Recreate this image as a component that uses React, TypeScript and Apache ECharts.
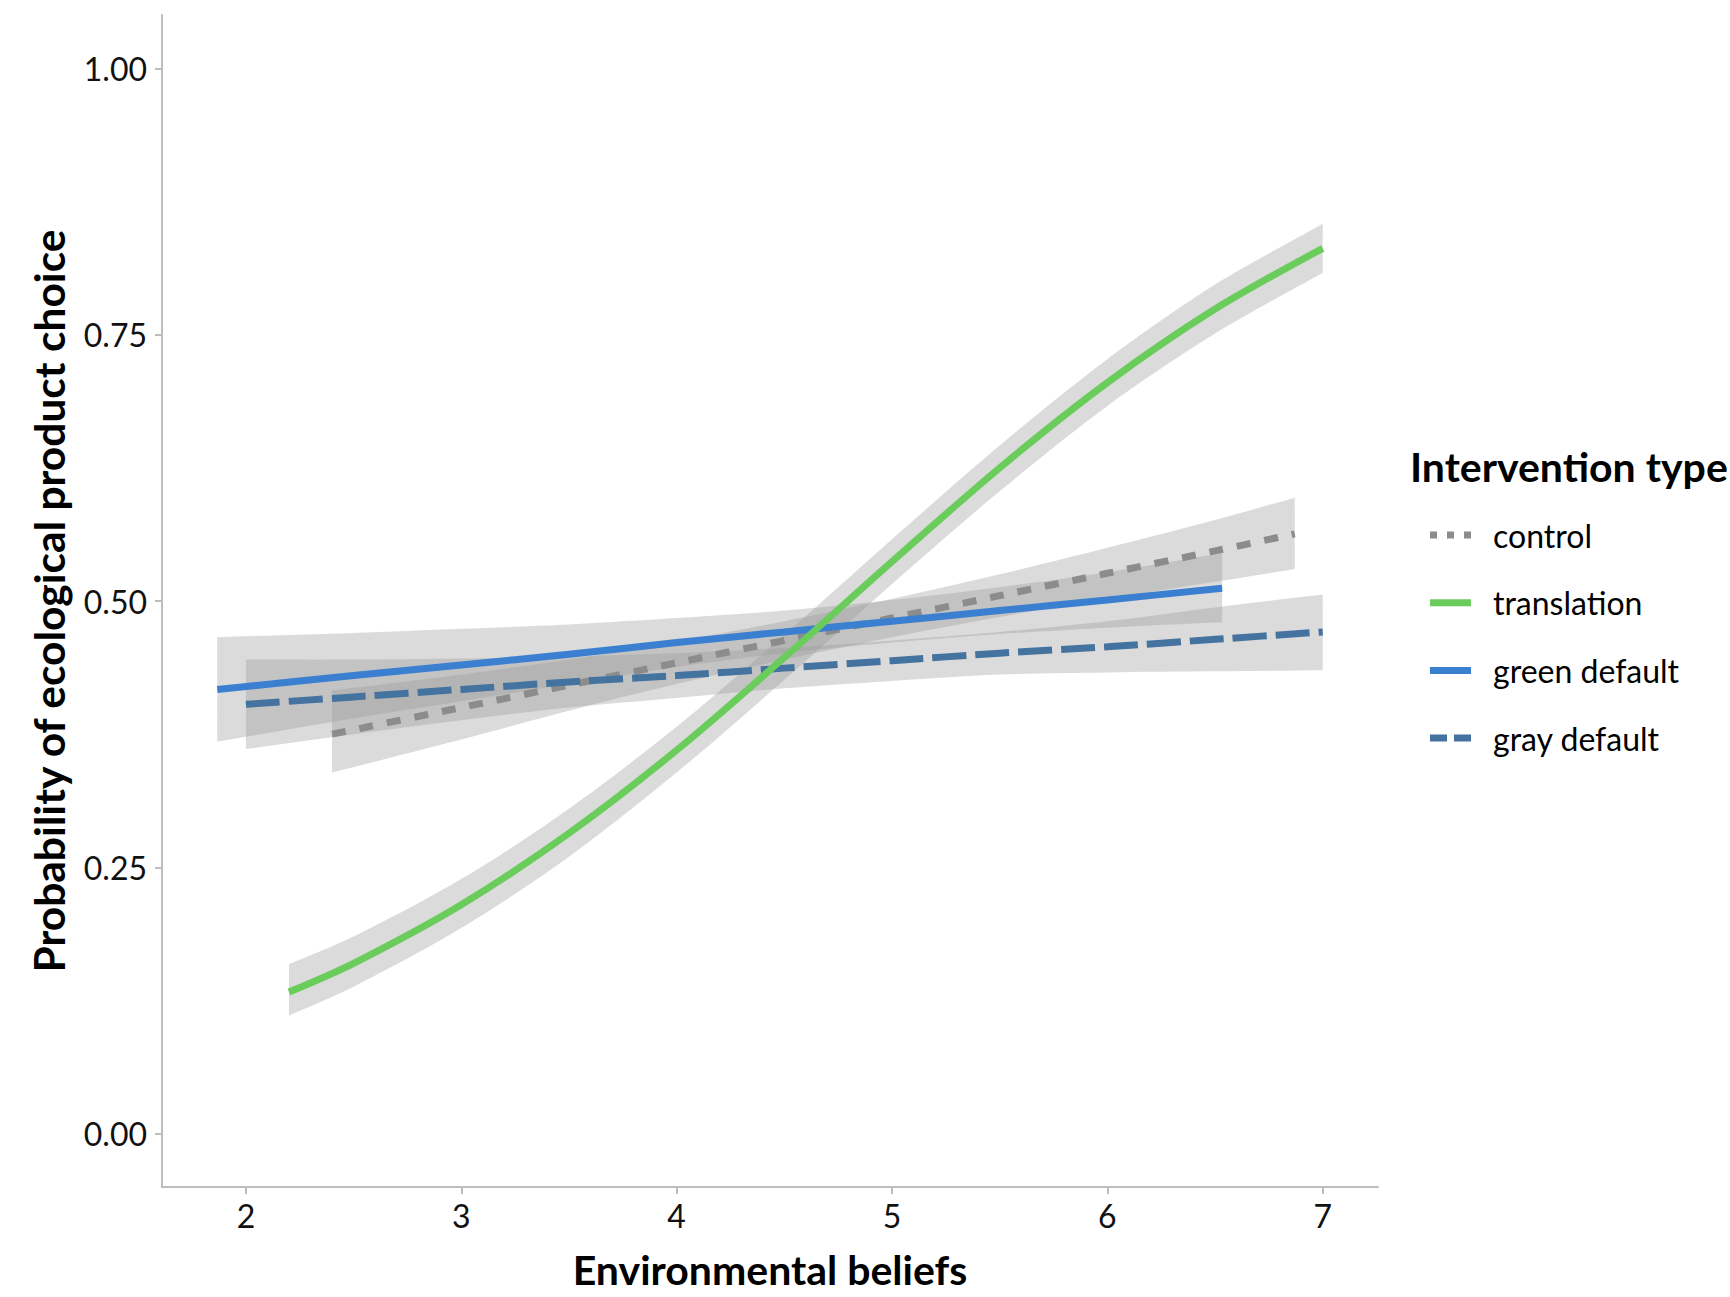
import React, { useEffect, useRef } from "react";
import * as echarts from "echarts";

// ---- Data ----
const seriesNames = ["control", "translation", "green default", "gray default"];

// control (dotted gray)
const controlX = [2.4, 3.0, 3.5, 4.0, 4.5, 5.0, 5.5, 6.0, 6.5, 6.87];
const controlY = [0.375, 0.400, 0.421, 0.442, 0.463, 0.484, 0.505, 0.526, 0.547, 0.563];
const controlLo = [0.339, 0.370, 0.397, 0.422, 0.445, 0.466, 0.485, 0.502, 0.518, 0.530];
const controlHi = [0.416, 0.431, 0.445, 0.462, 0.481, 0.502, 0.525, 0.550, 0.576, 0.597];

// translation (green solid)
const translationX = [2.2, 2.5, 3.0, 3.5, 4.0, 4.5, 5.0, 5.5, 6.0, 6.5, 7.0];
const translationY = [0.133, 0.160, 0.215, 0.282, 0.360, 0.447, 0.537, 0.625, 0.705, 0.774, 0.831];
const translationLo = [0.111, 0.138, 0.193, 0.260, 0.339, 0.426, 0.516, 0.603, 0.683, 0.751, 0.808];
const translationHi = [0.159, 0.185, 0.239, 0.305, 0.382, 0.468, 0.558, 0.646, 0.727, 0.797, 0.854];

// green default (blue solid)
const greenDefX = [1.867, 2.5, 3.0, 3.5, 4.0, 4.5, 5.0, 5.5, 6.0, 6.533];
const greenDefY = [0.417, 0.430, 0.440, 0.450, 0.461, 0.471, 0.481, 0.491, 0.501, 0.512];
const greenDefLo = [0.368, 0.390, 0.406, 0.422, 0.438, 0.451, 0.461, 0.469, 0.475, 0.480];
const greenDefHi = [0.466, 0.470, 0.474, 0.478, 0.484, 0.491, 0.501, 0.513, 0.527, 0.545];

// gray default (steel blue dashed)
const grayDefX = [2.0, 2.5, 3.0, 3.5, 4.0, 4.5, 5.0, 5.5, 6.0, 6.5, 7.0];
const grayDefY = [0.403, 0.410, 0.417, 0.424, 0.430, 0.437, 0.444, 0.451, 0.457, 0.464, 0.471];
const grayDefLo = [0.361, 0.375, 0.388, 0.400, 0.409, 0.418, 0.425, 0.431, 0.433, 0.434, 0.435];
const grayDefHi = [0.445, 0.445, 0.446, 0.448, 0.451, 0.456, 0.463, 0.471, 0.481, 0.494, 0.506];

const xTicks = [2, 3, 4, 5, 6, 7];
const yTicks = [0, 0.25, 0.5, 0.75, 1.0];

const colors = {
  control: "#8c8c8c",
  translation: "#6acc5a",
  greenDefault: "#3a7fd0",
  grayDefault: "#44739f",
};

const FONT = "Lato";
const SMOOTH = 0.3;

function zip(xs: number[], ys: number[]) {
  return xs.map((x, i) => [x, ys[i]]);
}

// Smooth SVG path segments through pixel points (same idea as ECharts' line smoothing)
function smoothSegments(pts: number[][], smooth: number): string {
  let d = "";
  const n = pts.length;
  const cps: number[][][] = [];
  for (let i = 0; i < n; i++) {
    const prev = pts[Math.max(0, i - 1)];
    const next = pts[Math.min(n - 1, i + 1)];
    const cur = pts[i];
    const vx = next[0] - prev[0];
    const vy = next[1] - prev[1];
    const d0 = Math.hypot(cur[0] - prev[0], cur[1] - prev[1]);
    const d1 = Math.hypot(next[0] - cur[0], next[1] - cur[1]);
    const sum = d0 + d1 || 1;
    const k0 = (smooth * d0) / sum;
    const k1 = (smooth * d1) / sum;
    cps.push([
      [cur[0] - vx * k0, cur[1] - vy * k0],
      [cur[0] + vx * k1, cur[1] + vy * k1],
    ]);
  }
  for (let i = 0; i < n - 1; i++) {
    const c1 = cps[i][1];
    const c2 = cps[i + 1][0];
    const p = pts[i + 1];
    d += ` C ${c1[0]} ${c1[1]} ${c2[0]} ${c2[1]} ${p[0]} ${p[1]}`;
  }
  return d;
}

function bandSeries(xs: number[], lo: number[], hi: number[]) {
  return {
    type: "custom",
    silent: true,
    data: xs.map((x, i) => [x, lo[i], hi[i]]),
    encode: { x: 0, y: [1, 2] },
    renderItem: (params: any, api: any) => {
      if (params.dataIndex !== 0) return null;
      const up: number[][] = xs.map((x, i) => api.coord([x, hi[i]]));
      const dn: number[][] = xs.map((x, i) => api.coord([x, lo[i]])).reverse();
      let d = `M ${up[0][0]} ${up[0][1]}`;
      d += smoothSegments(up, SMOOTH);
      d += ` L ${dn[0][0]} ${dn[0][1]}`;
      d += smoothSegments(dn, SMOOTH);
      d += " Z";
      return {
        type: "path",
        shape: { pathData: d },
        style: { fill: "rgba(153,153,153,0.35)", stroke: "none" },
      };
    },
  };
}

function lineSeries(name: string, xs: number[], ys: number[], color: string, type: any) {
  return {
    type: "line",
    name,
    data: zip(xs, ys),
    symbol: "none",
    smooth: SMOOTH,
    lineStyle: { color, width: 7, type, cap: "butt" },
    silent: true,
  };
}

export default function App() {
  const ref = useRef<HTMLDivElement>(null);
  useEffect(() => {
    if (!ref.current) return;
    const chart = echarts.init(ref.current, undefined, { renderer: "svg" });

    const allX = [...controlX, ...translationX, ...greenDefX, ...grayDefX];
    const xMinData = Math.min(...allX);
    const xMaxData = Math.max(...allX);
    const pad = (xMaxData - xMinData) * 0.05;

    const legendItems = [
      { name: seriesNames[0], color: colors.control, dash: [7, 10] },
      { name: seriesNames[1], color: colors.translation, dash: null },
      { name: seriesNames[2], color: colors.greenDefault, dash: null },
      { name: seriesNames[3], color: colors.grayDefault, dash: [17, 7] },
    ];
    const legendY0 = 535;
    const legendStep = 67.7;
    const legendGraphics: any[] = [
      {
        type: "text",
        x: 1410,
        y: 466,
        style: {
          text: "Intervention type",
          font: `bold 41px ${FONT}`,
          fill: "#000",
          textAlign: "left",
          textVerticalAlign: "middle",
        },
      },
    ];
    legendItems.forEach((it, i) => {
      const y = legendY0 + i * legendStep;
      legendGraphics.push({
        type: "line",
        shape: { x1: 1430, y1: y, x2: 1471, y2: y },
        style: { stroke: it.color, lineWidth: 7, lineDash: it.dash || undefined, lineCap: "butt" },
      });
      legendGraphics.push({
        type: "text",
        x: 1493,
        y,
        style: {
          text: it.name,
          font: `32px ${FONT}`,
          fill: "#000",
          textAlign: "left",
          textVerticalAlign: "middle",
        },
      });
    });

    const axisColor = "#bdbdbd";

    chart.setOption({
      animation: false,
      backgroundColor: "#ffffff",
      textStyle: { fontFamily: FONT },
      grid: { left: 162, right: 352, top: 15, bottom: 110, containLabel: false },
      xAxis: {
        type: "value",
        min: xMinData - pad,
        max: xMaxData + pad,
        name: "Environmental beliefs",
        nameLocation: "middle",
        nameGap: 62,
        nameTextStyle: { fontSize: 41, fontWeight: "bold", color: "#000", fontFamily: FONT },
        axisLine: { show: true, onZero: false, lineStyle: { color: axisColor, width: 2 } },
        axisTick: { show: true, length: 7, lineStyle: { color: axisColor, width: 2 }, customValues: xTicks },
        axisLabel: { show: true, customValues: xTicks, fontSize: 32, color: "#111", margin: 12, fontFamily: FONT },
        splitLine: { show: false },
      },
      yAxis: {
        type: "value",
        min: -0.05,
        max: 1.05,
        name: "Probability of ecological product choice",
        nameLocation: "middle",
        nameGap: 92,
        nameTextStyle: { fontSize: 42.5, fontWeight: "bold", color: "#000", fontFamily: FONT },
        axisLine: { show: true, onZero: false, lineStyle: { color: axisColor, width: 2 } },
        axisTick: { show: true, length: 7, lineStyle: { color: axisColor, width: 2 }, customValues: yTicks },
        axisLabel: {
          show: true,
          customValues: yTicks,
          fontSize: 32,
          color: "#111",
          margin: 15,
          fontFamily: FONT,
          formatter: (v: number) => v.toFixed(2),
        },
        splitLine: { show: false },
      },
      graphic: legendGraphics,
      series: [
        bandSeries(controlX, controlLo, controlHi),
        lineSeries("control", controlX, controlY, colors.control, [14, 14]),
        bandSeries(greenDefX, greenDefLo, greenDefHi),
        lineSeries("green default", greenDefX, greenDefY, colors.greenDefault, "solid"),
        bandSeries(grayDefX, grayDefLo, grayDefHi),
        lineSeries("gray default", grayDefX, grayDefY, colors.grayDefault, [34, 9]),
        bandSeries(translationX, translationLo, translationHi),
        lineSeries("translation", translationX, translationY, colors.translation, "solid"),
      ],
    });

    return () => chart.dispose();
  }, []);

  return (
    <div
      ref={ref}
      style={{ position: "absolute", left: 0, top: 0, width: 1730, height: 1297 }}
    />
  );
}
